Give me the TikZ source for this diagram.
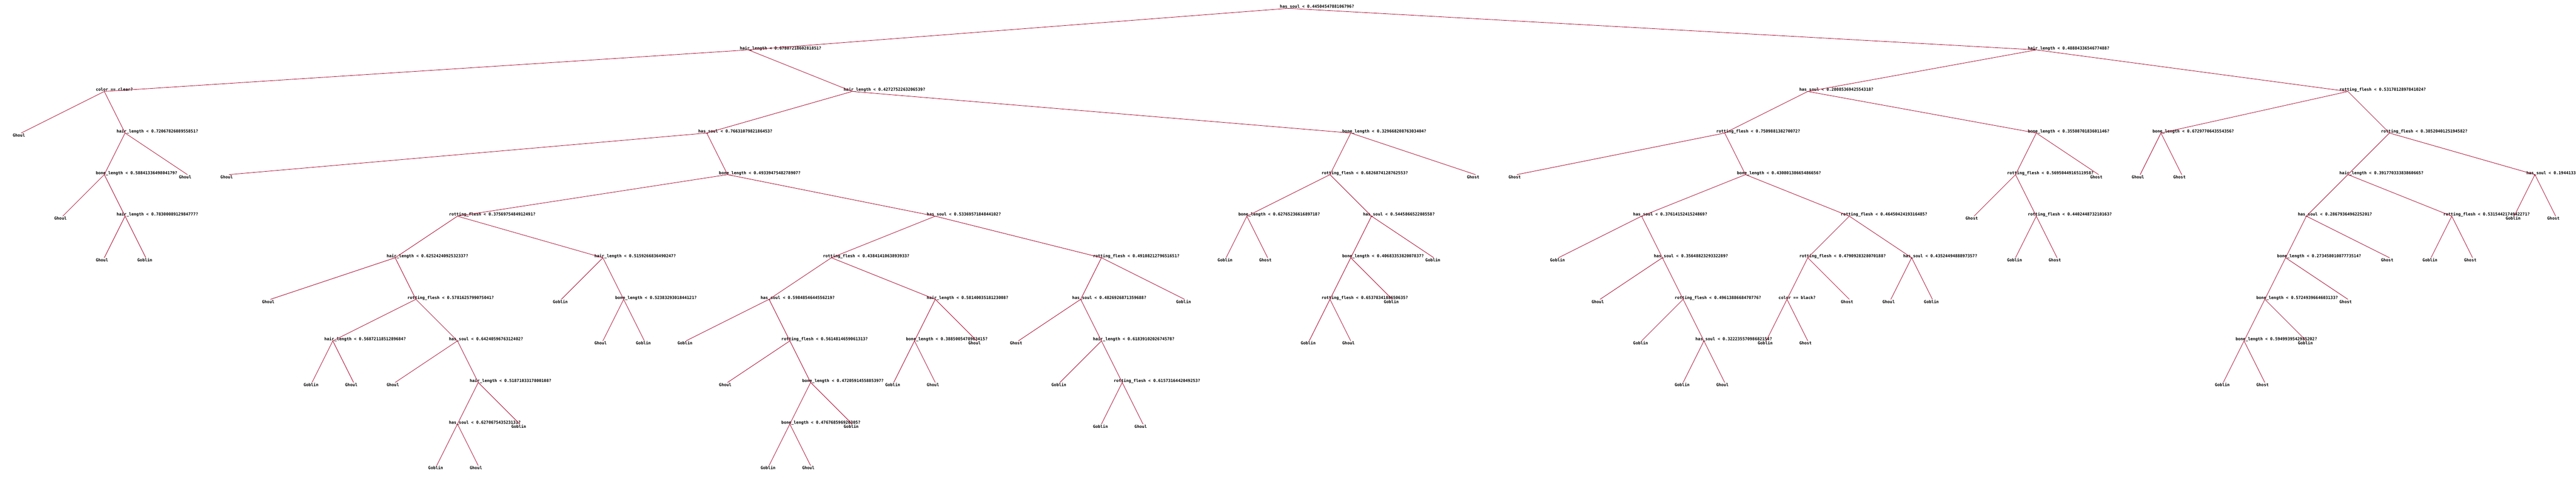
\documentclass[tikz,border=0pt]{standalone}
\usepackage{fontspec}
\newfontfamily\treefont{DejaVu Sans Mono}
\definecolor{branchred}{RGB}{170,0,40}
\tikzset{
  treetext/.style={inner sep=0pt, anchor=base west, xshift=-2.1mm,
    font=\treefont\bfseries\fontsize{2.81pt}{3pt}\selectfont},
  split/.style={coordinate, label={[treetext, yshift=0.07mm]0:#1}},
  leaf/.style={coordinate, label={[treetext, yshift=-0.93mm]0:#1}},
  branch/.style={draw=branchred, line width=0.1mm}
}

\begin{document}
\begin{tikzpicture}[x=5mm, y=-10mm]
  \useasboundingbox (-1.02,-0.2) rectangle (122.98,11.8);
  \clip (-1.02,-0.2) rectangle (122.98,11.8);

  \node[split={has\_soul < 0.4450454788106796?}] (d0k61) at (61,0) {};

  \node[split={hair\_length < 0.6780721860281851?}] (d1k35) at (35,1) {};
  \node[split={hair\_length < 0.4888433654677488?}] (d1k97) at (97,1) {};

  \node[split={color == clear?}] (d2k4) at (4,2) {};
  \node[split={hair\_length < 0.4272752263206539?}] (d2k40) at (40,2) {};
  \node[split={has\_soul < 0.2808536942554318?}] (d2k86) at (86,2) {};
  \node[split={rotting\_flesh < 0.5317012897841024?}] (d2k112) at (112,2) {};

  \node[leaf=Ghoul] (d3k0) at (0,3) {};
  \node[split={hair\_length < 0.7206782608955851?}] (d3k5) at (5,3) {};
  \node[split={has\_soul < 0.7663107982186453?}] (d3k33) at (33,3) {};
  \node[split={bone\_length < 0.32966820876303404?}] (d3k64) at (64,3) {};
  \node[split={rotting\_flesh < 0.750988138270072?}] (d3k82) at (82,3) {};
  \node[split={bone\_length < 0.3550870183601146?}] (d3k97) at (97,3) {};
  \node[split={bone\_length < 0.6729770643554356?}] (d3k103) at (103,3) {};
  \node[split={rotting\_flesh < 0.3852040125194582?}] (d3k114) at (114,3) {};

  \node[split={bone\_length < 0.5884133649804179?}] (d4k4) at (4,4) {};
  \node[leaf=Ghoul] (d4k8) at (8,4) {};
  \node[leaf=Ghoul] (d4k10) at (10,4) {};
  \node[split={bone\_length < 0.4933947548278907?}] (d4k34) at (34,4) {};
  \node[split={rotting\_flesh < 0.6826874128762553?}] (d4k63) at (63,4) {};
  \node[leaf=Ghost] (d4k70) at (70,4) {};
  \node[leaf=Ghost] (d4k72) at (72,4) {};
  \node[split={bone\_length < 0.43080138665486656?}] (d4k83) at (83,4) {};
  \node[split={rotting\_flesh < 0.5695044916511958?}] (d4k96) at (96,4) {};
  \node[leaf=Ghost] (d4k100) at (100,4) {};
  \node[leaf=Ghoul] (d4k102) at (102,4) {};
  \node[leaf=Ghost] (d4k104) at (104,4) {};
  \node[split={hair\_length < 0.39177033383860665?}] (d4k112) at (112,4) {};
  \node[split={has\_soul < 0.1944133}] (d4k121) at (121,4) {};

  \node[leaf=Ghoul] (d5k2) at (2,5) {};
  \node[split={hair\_length < 0.7830008912984777?}] (d5k5) at (5,5) {};
  \node[split={rotting\_flesh < 0.3756975484912491?}] (d5k21) at (21,5) {};
  \node[split={has\_soul < 0.5336957184844102?}] (d5k44) at (44,5) {};
  \node[split={bone\_length < 0.6276523661689718?}] (d5k59) at (59,5) {};
  \node[split={has\_soul < 0.544586652208558?}] (d5k65) at (65,5) {};
  \node[split={has\_soul < 0.3761415241524869?}] (d5k78) at (78,5) {};
  \node[split={rotting\_flesh < 0.4645042419316485?}] (d5k88) at (88,5) {};
  \node[leaf=Ghost] (d5k94) at (94,5) {};
  \node[split={rotting\_flesh < 0.440244873210163?}] (d5k97) at (97,5) {};
  \node[split={has\_soul < 0.2867936496225201?}] (d5k110) at (110,5) {};
  \node[split={rotting\_flesh < 0.5315442174942271?}] (d5k117) at (117,5) {};
  \node[leaf=Goblin] (d5k120) at (120,5) {};
  \node[leaf=Ghost] (d5k122) at (122,5) {};

  \node[leaf=Ghoul] (d6k4) at (4,6) {};
  \node[leaf=Goblin] (d6k6) at (6,6) {};
  \node[split={hair\_length < 0.6252424092532337?}] (d6k18) at (18,6) {};
  \node[split={hair\_length < 0.5159266836490247?}] (d6k28) at (28,6) {};
  \node[split={rotting\_flesh < 0.4384141063893933?}] (d6k39) at (39,6) {};
  \node[split={rotting\_flesh < 0.4910821279651651?}] (d6k52) at (52,6) {};
  \node[leaf=Goblin] (d6k58) at (58,6) {};
  \node[leaf=Ghost] (d6k60) at (60,6) {};
  \node[split={bone\_length < 0.4068335382007837?}] (d6k64) at (64,6) {};
  \node[leaf=Goblin] (d6k68) at (68,6) {};
  \node[leaf=Goblin] (d6k74) at (74,6) {};
  \node[split={has\_soul < 0.3564882329332289?}] (d6k79) at (79,6) {};
  \node[split={rotting\_flesh < 0.4790928328070188?}] (d6k86) at (86,6) {};
  \node[split={has\_soul < 0.4352449488897357?}] (d6k91) at (91,6) {};
  \node[leaf=Goblin] (d6k96) at (96,6) {};
  \node[leaf=Ghost] (d6k98) at (98,6) {};
  \node[split={bone\_length < 0.27345801087773514?}] (d6k109) at (109,6) {};
  \node[leaf=Ghost] (d6k114) at (114,6) {};
  \node[leaf=Goblin] (d6k116) at (116,6) {};
  \node[leaf=Ghost] (d6k118) at (118,6) {};

  \node[leaf=Ghoul] (d7k12) at (12,7) {};
  \node[split={rotting\_flesh < 0.5781625799075041?}] (d7k19) at (19,7) {};
  \node[leaf=Goblin] (d7k26) at (26,7) {};
  \node[split={bone\_length < 0.5238329301844121?}] (d7k29) at (29,7) {};
  \node[split={has\_soul < 0.5984854644556219?}] (d7k36) at (36,7) {};
  \node[split={hair\_length < 0.5814003518123008?}] (d7k44) at (44,7) {};
  \node[split={has\_soul < 0.4826926871359688?}] (d7k51) at (51,7) {};
  \node[leaf=Goblin] (d7k56) at (56,7) {};
  \node[split={rotting\_flesh < 0.6537834188650635?}] (d7k63) at (63,7) {};
  \node[leaf=Goblin] (d7k66) at (66,7) {};
  \node[leaf=Ghoul] (d7k76) at (76,7) {};
  \node[split={rotting\_flesh < 0.4961388668470776?}] (d7k80) at (80,7) {};
  \node[split={color == black?}] (d7k85) at (85,7) {};
  \node[leaf=Ghost] (d7k88) at (88,7) {};
  \node[leaf=Ghoul] (d7k90) at (90,7) {};
  \node[leaf=Goblin] (d7k92) at (92,7) {};
  \node[split={bone\_length < 0.5724939664603133?}] (d7k108) at (108,7) {};
  \node[leaf=Ghost] (d7k112) at (112,7) {};

  \node[split={hair\_length < 0.5687211851289684?}] (d8k15) at (15,8) {};
  \node[split={has\_soul < 0.6424059676312402?}] (d8k21) at (21,8) {};
  \node[leaf=Ghoul] (d8k28) at (28,8) {};
  \node[leaf=Goblin] (d8k30) at (30,8) {};
  \node[leaf=Goblin] (d8k32) at (32,8) {};
  \node[split={rotting\_flesh < 0.5614814659061313?}] (d8k37) at (37,8) {};
  \node[split={bone\_length < 0.3885005478963415?}] (d8k43) at (43,8) {};
  \node[leaf=Ghoul] (d8k46) at (46,8) {};
  \node[leaf=Ghost] (d8k48) at (48,8) {};
  \node[split={hair\_length < 0.6183910202674578?}] (d8k52) at (52,8) {};
  \node[leaf=Goblin] (d8k62) at (62,8) {};
  \node[leaf=Ghoul] (d8k64) at (64,8) {};
  \node[leaf=Goblin] (d8k78) at (78,8) {};
  \node[split={has\_soul < 0.32223557098682154?}] (d8k81) at (81,8) {};
  \node[leaf=Goblin] (d8k84) at (84,8) {};
  \node[leaf=Ghost] (d8k86) at (86,8) {};
  \node[split={bone\_length < 0.5949939542985202?}] (d8k107) at (107,8) {};
  \node[leaf=Goblin] (d8k110) at (110,8) {};

  \node[leaf=Goblin] (d9k14) at (14,9) {};
  \node[leaf=Ghoul] (d9k16) at (16,9) {};
  \node[leaf=Ghoul] (d9k18) at (18,9) {};
  \node[split={hair\_length < 0.5187103317800108?}] (d9k22) at (22,9) {};
  \node[leaf=Ghoul] (d9k34) at (34,9) {};
  \node[split={bone\_length < 0.4720591455885397?}] (d9k38) at (38,9) {};
  \node[leaf=Goblin] (d9k42) at (42,9) {};
  \node[leaf=Ghoul] (d9k44) at (44,9) {};
  \node[leaf=Goblin] (d9k50) at (50,9) {};
  \node[split={rotting\_flesh < 0.6157316442049253?}] (d9k53) at (53,9) {};
  \node[leaf=Goblin] (d9k80) at (80,9) {};
  \node[leaf=Ghoul] (d9k82) at (82,9) {};
  \node[leaf=Goblin] (d9k106) at (106,9) {};
  \node[leaf=Ghost] (d9k108) at (108,9) {};

  \node[split={has\_soul < 0.627067543523131?}] (d10k21) at (21,10) {};
  \node[leaf=Goblin] (d10k24) at (24,10) {};
  \node[split={bone\_length < 0.476768596926305?}] (d10k37) at (37,10) {};
  \node[leaf=Goblin] (d10k40) at (40,10) {};
  \node[leaf=Goblin] (d10k52) at (52,10) {};
  \node[leaf=Ghoul] (d10k54) at (54,10) {};

  \node[leaf=Goblin] (d11k20) at (20,11) {};
  \node[leaf=Ghoul] (d11k22) at (22,11) {};
  \node[leaf=Goblin] (d11k36) at (36,11) {};
  \node[leaf=Ghoul] (d11k38) at (38,11) {};

  \draw[branch] (d1k35) -- (d0k61) -- (d1k97);
  \draw[branch] (d2k4) -- (d1k35) -- (d2k40);
  \draw[branch] (d2k86) -- (d1k97) -- (d2k112);
  \draw[branch] (d3k0) -- (d2k4) -- (d3k5);
  \draw[branch] (d3k33) -- (d2k40) -- (d3k64);
  \draw[branch] (d3k82) -- (d2k86) -- (d3k97);
  \draw[branch] (d3k103) -- (d2k112) -- (d3k114);
  \draw[branch] (d4k4) -- (d3k5) -- (d4k8);
  \draw[branch] (d4k10) -- (d3k33) -- (d4k34);
  \draw[branch] (d4k63) -- (d3k64) -- (d4k70);
  \draw[branch] (d4k72) -- (d3k82) -- (d4k83);
  \draw[branch] (d4k96) -- (d3k97) -- (d4k100);
  \draw[branch] (d4k102) -- (d3k103) -- (d4k104);
  \draw[branch] (d4k112) -- (d3k114) -- (d4k121);
  \draw[branch] (d5k2) -- (d4k4) -- (d5k5);
  \draw[branch] (d5k21) -- (d4k34) -- (d5k44);
  \draw[branch] (d5k59) -- (d4k63) -- (d5k65);
  \draw[branch] (d5k78) -- (d4k83) -- (d5k88);
  \draw[branch] (d5k94) -- (d4k96) -- (d5k97);
  \draw[branch] (d5k110) -- (d4k112) -- (d5k117);
  \draw[branch] (d5k120) -- (d4k121) -- (d5k122);
  \draw[branch] (d6k4) -- (d5k5) -- (d6k6);
  \draw[branch] (d6k18) -- (d5k21) -- (d6k28);
  \draw[branch] (d6k39) -- (d5k44) -- (d6k52);
  \draw[branch] (d6k58) -- (d5k59) -- (d6k60);
  \draw[branch] (d6k64) -- (d5k65) -- (d6k68);
  \draw[branch] (d6k74) -- (d5k78) -- (d6k79);
  \draw[branch] (d6k86) -- (d5k88) -- (d6k91);
  \draw[branch] (d6k96) -- (d5k97) -- (d6k98);
  \draw[branch] (d6k109) -- (d5k110) -- (d6k114);
  \draw[branch] (d6k116) -- (d5k117) -- (d6k118);
  \draw[branch] (d7k12) -- (d6k18) -- (d7k19);
  \draw[branch] (d7k26) -- (d6k28) -- (d7k29);
  \draw[branch] (d7k36) -- (d6k39) -- (d7k44);
  \draw[branch] (d7k51) -- (d6k52) -- (d7k56);
  \draw[branch] (d7k63) -- (d6k64) -- (d7k66);
  \draw[branch] (d7k76) -- (d6k79) -- (d7k80);
  \draw[branch] (d7k85) -- (d6k86) -- (d7k88);
  \draw[branch] (d7k90) -- (d6k91) -- (d7k92);
  \draw[branch] (d7k108) -- (d6k109) -- (d7k112);
  \draw[branch] (d8k15) -- (d7k19) -- (d8k21);
  \draw[branch] (d8k28) -- (d7k29) -- (d8k30);
  \draw[branch] (d8k32) -- (d7k36) -- (d8k37);
  \draw[branch] (d8k43) -- (d7k44) -- (d8k46);
  \draw[branch] (d8k48) -- (d7k51) -- (d8k52);
  \draw[branch] (d8k62) -- (d7k63) -- (d8k64);
  \draw[branch] (d8k78) -- (d7k80) -- (d8k81);
  \draw[branch] (d8k84) -- (d7k85) -- (d8k86);
  \draw[branch] (d8k107) -- (d7k108) -- (d8k110);
  \draw[branch] (d9k14) -- (d8k15) -- (d9k16);
  \draw[branch] (d9k18) -- (d8k21) -- (d9k22);
  \draw[branch] (d9k34) -- (d8k37) -- (d9k38);
  \draw[branch] (d9k42) -- (d8k43) -- (d9k44);
  \draw[branch] (d9k50) -- (d8k52) -- (d9k53);
  \draw[branch] (d9k80) -- (d8k81) -- (d9k82);
  \draw[branch] (d9k106) -- (d8k107) -- (d9k108);
  \draw[branch] (d10k21) -- (d9k22) -- (d10k24);
  \draw[branch] (d10k37) -- (d9k38) -- (d10k40);
  \draw[branch] (d10k52) -- (d9k53) -- (d10k54);
  \draw[branch] (d11k20) -- (d10k21) -- (d11k22);
  \draw[branch] (d11k36) -- (d10k37) -- (d11k38);
\end{tikzpicture}
\end{document}
